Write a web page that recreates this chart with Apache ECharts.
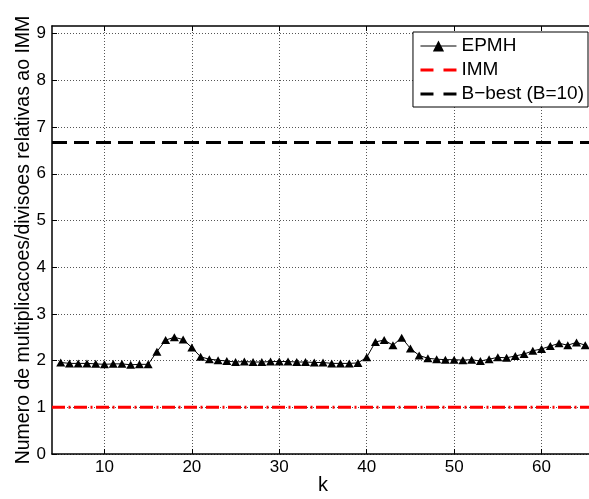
<!DOCTYPE html>
<html>
<head>
<meta charset="utf-8">
<script src="https://cdn.jsdelivr.net/npm/echarts@6/dist/echarts.min.js"></script>
<style>
  html, body { margin: 0; padding: 0; background: #fff; }
  #chart { width: 589px; height: 499px; }
</style>
</head>
<body>
<div id="chart"></div>
<script>
// k values and EPMH cost relative to IMM
const kValues = [];
for (let k = 5; k <= 65; k++) kValues.push(k);
const epmh = [
  1.96, 1.94, 1.94, 1.94, 1.93, 1.92, 1.93, 1.93, 1.91, 1.92,
  1.92, 2.19, 2.44, 2.50, 2.45, 2.28, 2.08, 2.03, 2.01, 1.99,
  1.97, 1.98, 1.97, 1.97, 1.98, 1.98, 1.98, 1.97, 1.97, 1.96,
  1.96, 1.94, 1.94, 1.94, 1.95, 2.07, 2.40, 2.44, 2.33, 2.49,
  2.26, 2.11, 2.05, 2.03, 2.02, 2.02, 2.01, 2.02, 1.99, 2.03,
  2.07, 2.06, 2.10, 2.14, 2.21, 2.25, 2.31, 2.37, 2.33, 2.39,
  2.33
];
const immLevel = 1;
const bBestLevel = 6.67;
const xTicks = [10, 20, 30, 40, 50, 60];
const yTicks = [0, 1, 2, 3, 4, 5, 6, 7, 8, 9];
const xMin = 4, xMax = 66;
const yMin = 0, yMax = 9.165;

const font = 'Liberation Sans, Arial, Helvetica, sans-serif';

const chart = echarts.init(document.getElementById('chart'), null, { renderer: 'canvas' });

const gridLine = { show: true, lineStyle: { color: '#555', width: 1, type: [1, 2] } };
const hiddenMarker = { opacity: 0 };

chart.setOption({
  animation: false,
  backgroundColor: '#fff',
  grid: { left: 52, right: -5, top: 26, bottom: 45, containLabel: false, outerBoundsMode: 'none' },
  legend: {
    orient: 'vertical',
    right: 1,
    top: 32,
    backgroundColor: '#fff',
    borderColor: '#000',
    borderWidth: 1,
    borderRadius: 0,
    padding: [2, 4, 1, 6],
    itemGap: 0,
    itemWidth: 36,
    itemHeight: 14,
    textStyle: { fontFamily: font, fontSize: 19, color: '#000', lineHeight: 24 },
    data: [
      { name: 'EPMH', lineStyle: { width: 1 } },
      { name: 'IMM', itemStyle: hiddenMarker, lineStyle: { width: 3, type: [13, 10] } },
      { name: 'B\u2212best (B=10)', itemStyle: hiddenMarker, lineStyle: { width: 3, type: [13, 10] } }
    ]
  },
  xAxis: [
    {
      type: 'value',
      min: xMin, max: xMax,
      name: 'k',
      nameLocation: 'middle',
      nameGap: 21,
      nameMoveOverlap: false,
      nameTextStyle: { fontFamily: font, fontSize: 20, color: '#000' },
      axisLine: { show: true, onZero: false, lineStyle: { color: '#000', width: 1.5 } },
      axisTick: { show: true, inside: true, length: 5, customValues: xTicks, lineStyle: { color: '#000' } },
      axisLabel: { customValues: xTicks, margin: 5, fontFamily: font, fontSize: 17, color: '#000' },
      splitLine: gridLine
    },
    {
      type: 'value',
      position: 'top',
      min: xMin, max: xMax,
      axisLine: { show: true, onZero: false, lineStyle: { color: '#000', width: 1.5 } },
      axisTick: { show: true, inside: true, length: 5, customValues: xTicks, lineStyle: { color: '#000' } },
      axisLabel: { show: false },
      splitLine: { show: false }
    }
  ],
  yAxis: [
    {
      type: 'value',
      min: yMin, max: yMax,
      name: 'Numero de multiplicacoes/divisoes relativas ao IMM',
      nameLocation: 'middle',
      nameGap: 18,
      nameMoveOverlap: false,
      nameTextStyle: { fontFamily: font, fontSize: 19.5, color: '#000' },
      axisLine: { show: true, onZero: false, lineStyle: { color: '#000', width: 1.5 } },
      axisTick: { show: true, inside: true, length: 5, customValues: yTicks, lineStyle: { color: '#000' } },
      axisLabel: { customValues: yTicks, margin: 6, fontFamily: font, fontSize: 17, color: '#000' },
      splitLine: gridLine
    }
  ],
  series: [
    {
      name: 'EPMH',
      type: 'line',
      data: kValues.map((k, i) => [k, epmh[i]]),
      symbol: 'triangle',
      symbolSize: [9, 8],
      showAllSymbol: true,
      itemStyle: { color: '#000' },
      lineStyle: { color: '#000', width: 1 },
      z: 5
    },
    {
      name: 'IMM',
      type: 'line',
      data: [[xMin, immLevel], [xMax, immLevel]],
      symbol: 'none',
      itemStyle: { color: '#ff0000' },
      lineStyle: { color: '#ff0000', width: 3, type: [13, 3.5, 2, 3.5], cap: 'butt' },
      z: 4
    },
    {
      name: 'B\u2212best (B=10)',
      type: 'line',
      data: [[xMin, bBestLevel], [xMax, bBestLevel]],
      symbol: 'none',
      itemStyle: { color: '#000' },
      lineStyle: { color: '#000', width: 3, type: [15, 7], cap: 'butt' },
      z: 4
    }
  ]
});
</script>
</body>
</html>
